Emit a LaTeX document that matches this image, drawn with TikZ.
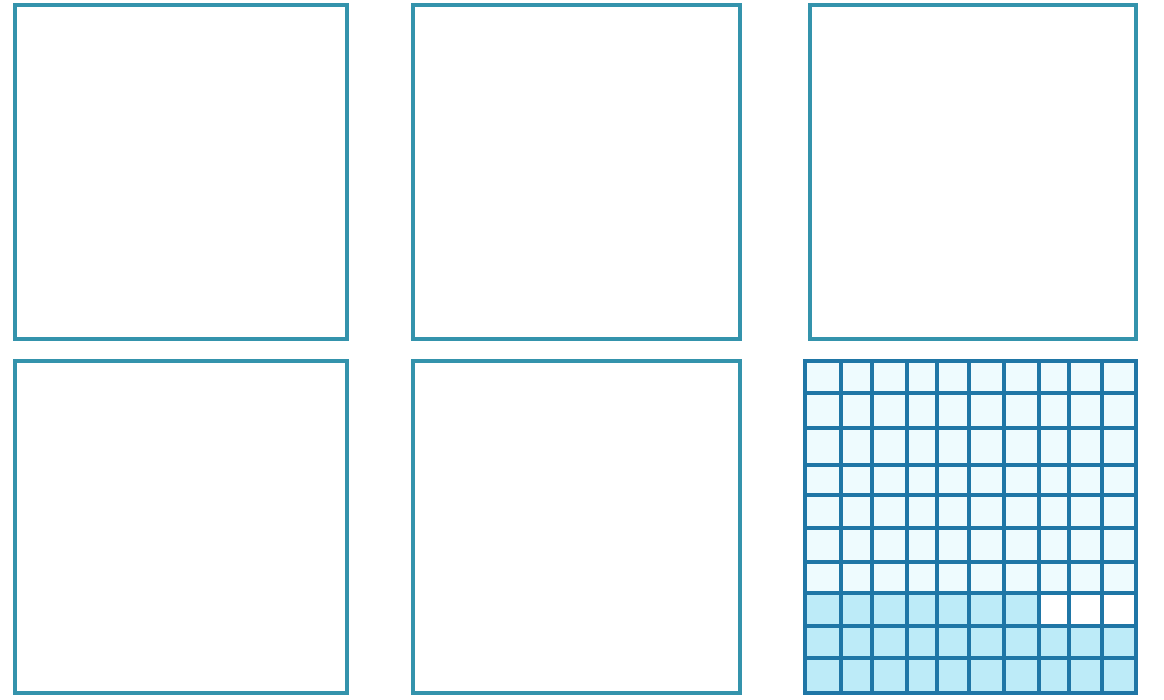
\documentclass[tikz,border=0pt]{standalone}
\begin{document}
\begin{tikzpicture}[x=0.02cm,y=-0.02cm,
  panel/.style={draw=panelcol,line width=2pt},
  gridline/.style={draw=gridcol,line width=2pt},
  cellfill/.style={fill=fillcol}]
\definecolor{panelcol}{HTML}{3493AC}
\definecolor{gridcol}{HTML}{1F76A6}
\definecolor{fillcol}{HTML}{BDEBF8}
\definecolor{tintcol}{HTML}{EEFBFE}
\useasboundingbox[fill=white] (0,0) rectangle (1164,700);
% top row
\draw[panel] (15,5) rectangle (347,339);
\draw[panel] (413,5) rectangle (740,339);
\draw[panel] (810,5) rectangle (1136,339);
% bottom row
\draw[panel] (15,361) rectangle (347,693);
\draw[panel] (413,361) rectangle (740,693);
% grid panel
\fill[tintcol] (805,361) rectangle (1136,593);
\fill[cellfill] (805,626) rectangle (1136,693);
\fill[cellfill] (805,593) rectangle (1039,626);
\foreach \gx in {841,872,907,937,969,1004,1039,1069,1102}
  \draw[gridline] (\gx,361) -- (\gx,693);
\foreach \gy in {393,428,465,495,528,562,593,626,658}
  \draw[gridline] (805,\gy) -- (1136,\gy);
\draw[gridline] (805,361) rectangle (1136,693);
\end{tikzpicture}
\end{document}
